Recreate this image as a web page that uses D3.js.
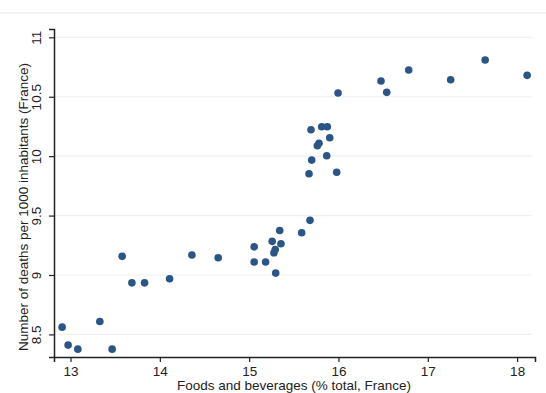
<!DOCTYPE html>
<html lang="en">
<head>
<meta charset="utf-8">
<title>Deaths vs foods and beverages, France</title>
<script src="https://d3js.org/d3.v7.min.js"></script>
<style>
  body { margin: 0; background: #fff; }
  text { font-family: "Liberation Sans", Arial, sans-serif; }
  .tick text { fill: #222; font-size: 13.5px; }
  .axis-title { fill: #222; font-size: 13.5px; }
</style>
</head>
<body>
<script>
// foods and beverages (% of total consumption, France)
var foodShare = [12.906, 12.973, 13.082, 13.328, 13.466, 13.578, 13.687, 13.829, 14.109, 14.359,
                 14.653, 15.056, 15.056, 15.184, 15.258, 15.292, 15.277, 15.356, 15.342, 15.297,
                 15.588, 15.681, 15.692, 15.812, 15.875, 15.902, 15.782, 15.763, 15.700, 15.868,
                 15.670, 15.980, 15.995, 16.476, 16.540, 16.786, 17.256, 17.642, 18.112];
// deaths per 1000 inhabitants
var deathRate = [8.561, 8.410, 8.376, 8.609, 8.376, 9.157, 8.934, 8.934, 8.968, 9.168,
                 9.145, 9.237, 9.109, 9.109, 9.283, 9.215, 9.187, 9.263, 9.375, 9.016,
                 9.355, 9.460, 10.222, 10.247, 10.247, 10.155, 10.108, 10.088, 9.967, 10.003,
                 9.852, 9.864, 10.531, 10.632, 10.537, 10.725, 10.643, 10.809, 10.680];
var xTicks = [13, 14, 15, 16, 17, 18];
var yTicks = [8.5, 9, 9.5, 10, 10.5, 11];

var w = 546, h = 393;

var svg = d3.select("body").append("svg")
    .attr("width", w)
    .attr("height", h);

// title, cropped off the top like in the source picture
svg.append("text")
    .attr("x", 273)
    .attr("y", -4)
    .attr("text-anchor", "middle")
    .style("font-size", "20px")
    .style("font-weight", "bold")
    .text("Mortality and spending on foods and beverages");

svg.append("line")
    .attr("x1", 0).attr("x2", w)
    .attr("y1", 13).attr("y2", 13)
    .attr("stroke", "#eeeeee")
    .attr("stroke-width", 1.5);

var x = d3.scaleLinear().domain([12.815, 18.2]).range([54, 535]);
var y = d3.scaleLinear().domain([8.31, 11.07]).range([357, 29]);

// gridlines
svg.selectAll(".grid")
    .data(yTicks)
    .enter().append("line")
    .attr("class", "grid")
    .attr("x1", 54).attr("x2", 532)
    .attr("y1", function(d) { return y(d); })
    .attr("y2", function(d) { return y(d); })
    .attr("stroke", "#f0f0f0")
    .attr("stroke-width", 1.2);

// x axis
var gx = svg.append("g")
    .attr("transform", "translate(0," + y.range()[0] + ")")
    .call(d3.axisBottom(x).tickValues(xTicks).tickSize(5).tickPadding(4).tickFormat(d3.format("d")));
gx.select(".domain").attr("stroke", "#222").attr("stroke-width", 1.5);
gx.selectAll(".tick line").attr("stroke", "#222").attr("stroke-width", 1.2);

// y axis with rotated labels
var gy = svg.append("g")
    .attr("transform", "translate(" + x.range()[0] + ",0)")
    .call(d3.axisLeft(y).tickValues(yTicks).tickSize(5).tickFormat(function(d) { return d; }));
gy.select(".domain").attr("stroke", "#222").attr("stroke-width", 1.5);
gy.selectAll(".tick line").attr("stroke", "#222").attr("stroke-width", 1.2);
gy.selectAll(".tick text")
    .attr("x", null).attr("dy", null)
    .attr("text-anchor", "middle")
    .attr("transform", "translate(-13,0) rotate(-90)");

// axis titles
svg.append("text")
    .attr("class", "axis-title")
    .attr("x", 294)
    .attr("y", 390)
    .attr("text-anchor", "middle")
    .text("Foods and beverages (% total, France)");

svg.append("text")
    .attr("class", "axis-title")
    .attr("transform", "translate(28,207) rotate(-90)")
    .attr("text-anchor", "middle")
    .text("Number of deaths per 1000 inhabitants (France)");

// points
svg.selectAll(".dot")
    .data(foodShare)
    .enter().append("circle")
    .attr("class", "dot")
    .attr("cx", function(d) { return x(d); })
    .attr("cy", function(d, i) { return y(deathRate[i]); })
    .attr("r", 3.8)
    .attr("fill", "#2a5586");
</script>
</body>
</html>
